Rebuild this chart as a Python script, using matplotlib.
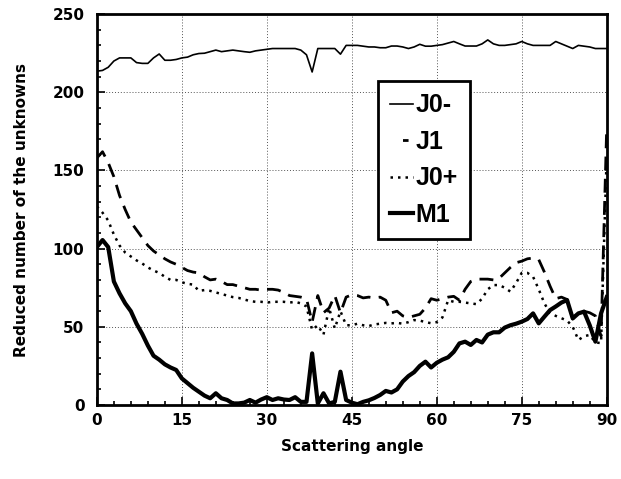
import matplotlib
matplotlib.use("Agg")
import matplotlib.pyplot as plt
import numpy as np
from matplotlib.lines import Line2D
from matplotlib.ticker import MultipleLocator

plt.rcParams['font.family'] = ['DejaVu Sans']

angle = np.arange(0, 91)

j0_minus = [213.5, 214, 216, 220, 222, 222, 222, 219, 218.5, 218.5,
            222, 224.5, 220.5, 220.5, 221, 222, 222.5, 224, 224.8, 225,
            226, 227, 226, 226.5, 227, 226.5, 226, 225.6, 226.5, 227,
            227.5, 228, 228, 228, 228, 228, 227, 224, 213, 228,
            228, 228, 228, 224.4, 230, 230, 230, 229.5, 229, 229,
            228.5, 228.5, 229.6, 229.6, 229, 228, 229, 230.7, 229.5, 229.5,
            230, 230.5, 231.5, 232.5, 231, 229.6, 229.6, 229.6, 231, 233.5,
            231, 230, 230, 230.5, 231, 232.5, 231, 230, 230, 230,
            230, 232.5, 231, 229.5, 228, 230, 229.5, 229, 228, 228,
            228]

j1 = [158, 162, 155, 146, 134, 125, 117, 112, 107, 102,
      98.5, 96, 93.5, 91.5, 90, 88, 86, 85, 84.5, 82,
      80, 80.5, 79, 77, 77, 76, 75, 74, 74, 73.5,
      74, 74, 73.5, 72, 70, 69.5, 69, 68, 53, 70,
      59, 62, 70, 59, 69, 70.5, 70, 68.5, 69, 68.5,
      69, 67, 59, 60, 57, 56, 57, 58, 62, 68,
      67, 68, 69, 69.5, 67, 74, 79, 80.5, 80.5, 80.5,
      80, 81, 84.5, 88, 91, 92, 93.5, 94, 93, 85,
      76, 68, 69, 67.5, 55, 59.5, 60, 59, 57, 44,
      178]

j0_plus = [127, 123, 118, 109, 102, 97.5, 95, 92.5, 90.5, 88,
           86, 84.5, 82, 80, 80, 78.5, 77.5, 77, 73, 73.5,
           73, 72, 71, 70, 69, 68.5, 67.5, 66.5, 66, 66,
           65.5, 66, 66, 66, 65.5, 66, 65, 63, 48, 51,
           45, 62, 49, 60, 51, 51, 52, 51, 50.5, 51.5,
           52, 52.5, 52.2, 52.5, 52, 53, 54.3, 54, 53, 52.3,
           53, 56, 67, 66, 66, 65.5, 65, 64.5, 68, 74,
           76.7, 76.7, 75, 72.5, 78, 84.5, 84.5, 82, 74, 65,
           58.8, 57, 55.5, 54, 50, 41.6, 44, 44.8, 40, 39.6,
           160]

m1 = [101, 105.5, 101, 79, 71.4, 65, 60, 52, 45.5, 38,
      31.5, 29, 26, 24, 22.4, 17, 14, 11, 8.5, 6,
      4.3, 7.5, 4.3, 3.2, 1, 1, 1.5, 3.2, 1.5, 3.5,
      5, 3.2, 4.3, 3.5, 3.2, 5, 2, 2, 33, 1,
      7.5, 1, 2, 21.3, 3.2, 1.5, 0.5, 2, 3, 4.5,
      6.4, 9, 8, 10, 15, 18.5, 21, 25, 27.7, 24,
      27, 29, 30.5, 34, 39.4, 40.5, 38.4, 41.6, 40, 45,
      46.5, 46.5, 49.5, 51, 52, 53.3, 55, 58.6, 52.2, 56.5,
      60.7, 63, 65.5, 67.1, 55.4, 58.6, 59.7, 51, 40.5, 58.6,
      69]

labels = ['J0-', 'J1', 'J0+', 'M1']

fig = plt.figure(figsize=(6.21, 4.79), dpi=100)
ax = fig.add_axes([0.156, 0.1545, 0.821, 0.816])

ax.plot(angle, j0_minus, color='black', lw=1.2)
ax.plot(angle, j1, color='black', lw=2, dashes=(5, 3))
ax.plot(angle, j0_plus, color='black', lw=1.8, dashes=(1, 2))
ax.plot(angle, m1, color='black', lw=3)

ax.set_xlim(0, 90)
ax.set_ylim(0, 250)
ax.xaxis.set_major_locator(MultipleLocator(15))
ax.xaxis.set_minor_locator(MultipleLocator(3))
ax.yaxis.set_major_locator(MultipleLocator(50))
ax.yaxis.set_minor_locator(MultipleLocator(10))
ax.tick_params(which='both', direction='in', top=False, right=False,
               labelsize=11, width=1.2)
ax.tick_params(axis='x', pad=6)
ax.tick_params(axis='y', pad=9)
ax.tick_params(which='major', length=6)
ax.tick_params(which='minor', length=3)
for lbl in ax.get_xticklabels() + ax.get_yticklabels():
    lbl.set_fontweight('bold')
for sp in ax.spines.values():
    sp.set_linewidth(2)

ax.grid(True, which='major', color='#555555', linestyle=(0, (1, 2)), lw=0.7)

ax.set_xlabel('Scattering angle', fontsize=11, fontweight='bold', labelpad=8)
ax.set_ylabel('Reduced number of the unknowns', fontsize=11, fontweight='bold', labelpad=17)

# short legend keys; the J1 key shows one centred dash
handles = [
    Line2D([], [], color='black', lw=1.2),
    Line2D([], [], color='black', lw=2, linestyle=(4.5, (2, 7))),
    Line2D([], [], color='black', lw=1.8, dashes=(1, 2)),
    Line2D([], [], color='black', lw=3),
]
leg = ax.legend(handles, labels, loc='upper left', bbox_to_anchor=(0.551, 0.829),
                prop={'family': 'Liberation Sans', 'size': 18, 'weight': 'bold'},
                handlelength=0.9, handletextpad=0.1, borderpad=0.5,
                labelspacing=0.5, borderaxespad=0, fancybox=False, framealpha=1)
leg.get_frame().set_edgecolor('black')
leg.get_frame().set_linewidth(2)

fig.savefig('out.png', dpi=100)
